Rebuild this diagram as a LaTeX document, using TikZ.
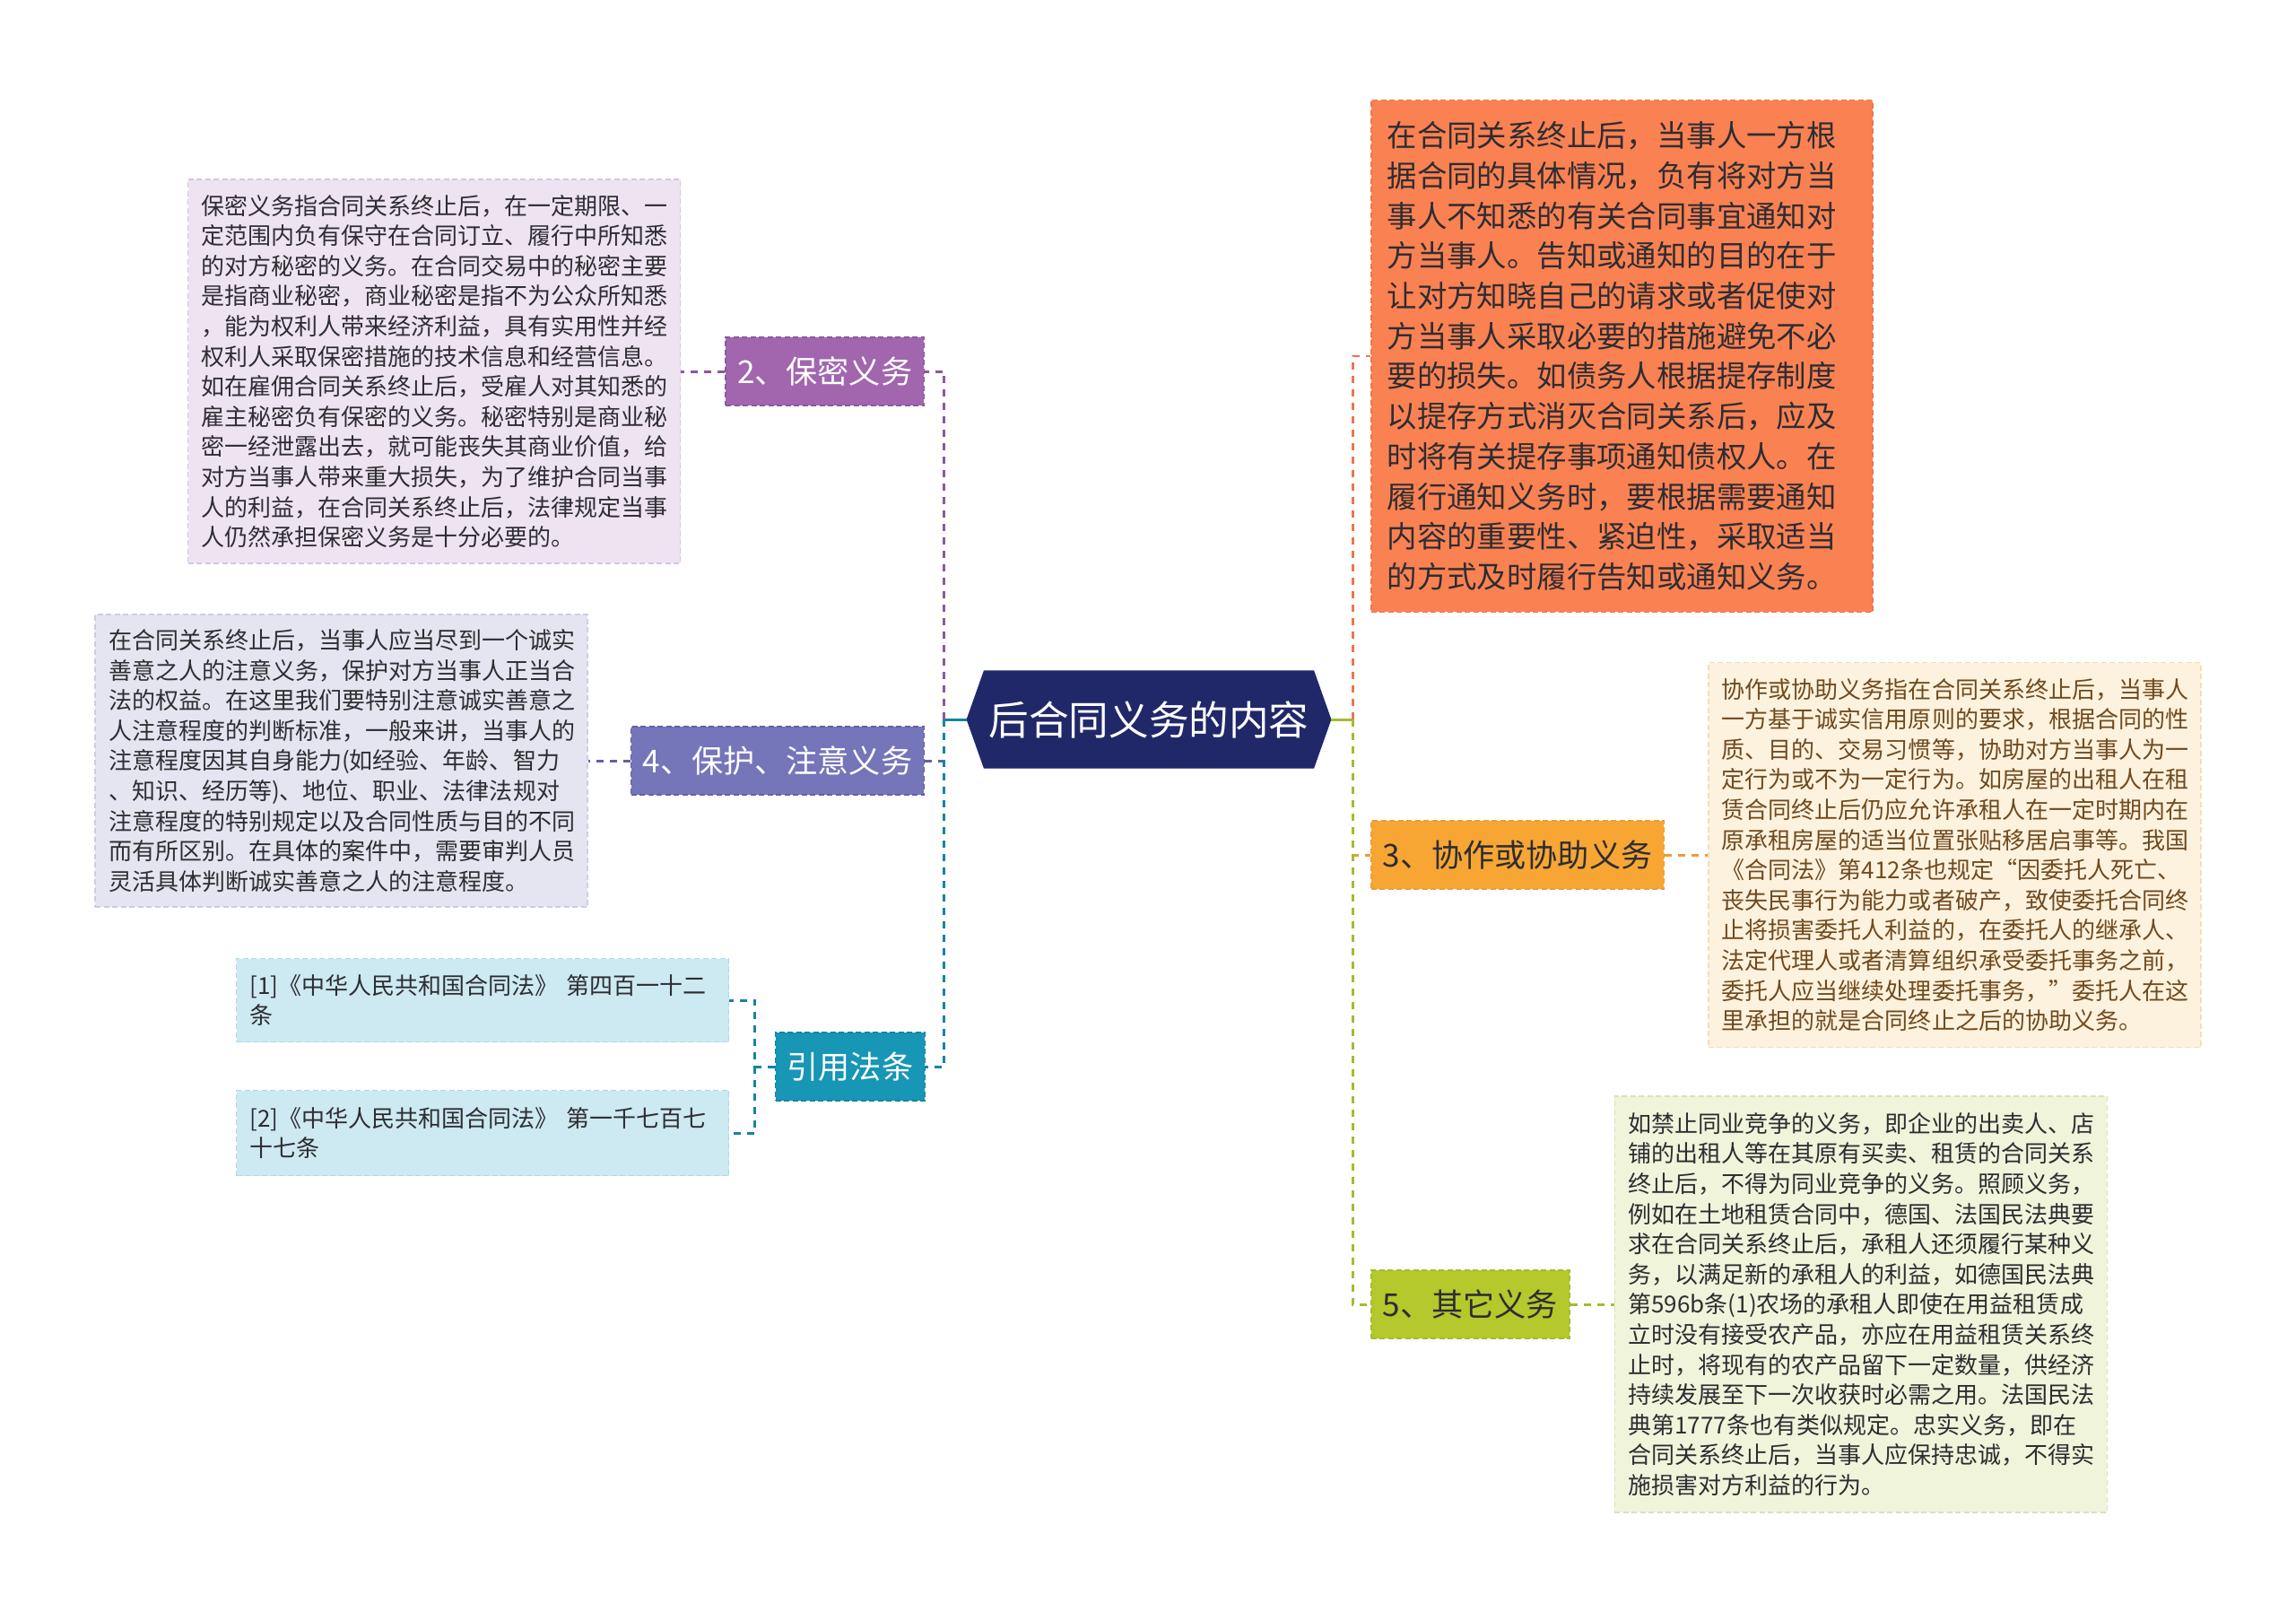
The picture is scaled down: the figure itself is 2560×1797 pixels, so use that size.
\documentclass[tikz,border=0pt]{standalone}
\usepackage{fontspec}
\setmainfont{Noto Sans CJK SC}
\usetikzlibrary{positioning,shapes.symbols}

\definecolor{rootbg}{RGB}{33,40,105}
\definecolor{inkgray}{RGB}{45,45,50}
\definecolor{mimibg}{RGB}{161,102,174}
\definecolor{mimiline}{RGB}{140,88,158}
\definecolor{mimileaf}{RGB}{238,228,241}
\definecolor{mimiedge}{RGB}{214,198,222}
\definecolor{zhuyibg}{RGB}{117,117,185}
\definecolor{zhuyiline}{RGB}{98,98,165}
\definecolor{zhuyileaf}{RGB}{229,229,241}
\definecolor{zhuyiedge}{RGB}{205,205,226}
\definecolor{citebg}{RGB}{23,150,181}
\definecolor{citeline}{RGB}{22,132,162}
\definecolor{citeleaf}{RGB}{205,233,242}
\definecolor{citeedge}{RGB}{180,215,228}
\definecolor{tongzhibg}{RGB}{250,129,82}
\definecolor{tongzhiline}{RGB}{236,118,78}
\definecolor{xiezuobg}{RGB}{247,166,52}
\definecolor{xiezuoline}{RGB}{238,156,55}
\definecolor{xiezuoleaf}{RGB}{253,242,222}
\definecolor{xiezuoedge}{RGB}{240,222,190}
\definecolor{xiezuoink}{RGB}{112,74,30}
\definecolor{qitabg}{RGB}{181,200,44}
\definecolor{qitaline}{RGB}{164,187,48}
\definecolor{qitaleaf}{RGB}{240,244,218}
\definecolor{qitaedge}{RGB}{216,226,186}

\begin{document}
\begin{tikzpicture}[x=0.1mm, y=-0.1mm,
	box/.style = {shape=rectangle, draw, line width=0.15mm, dash pattern=on 0.6mm off 0.35mm, inner xsep=1.5mm},
	branch/.style = {box, inner xsep=1.3mm, minimum height=7.6mm, font=\fontsize{10}{12}\selectfont},
	leaf/.style = {box, text width=51.9mm, align=left, font=\fontsize{7.4}{9.56}\selectfont, text=inkgray},
	link/.style = {line width=0.3mm, dash pattern=on 0.8mm off 0.7mm},
	stub/.style = {line width=0.3mm}]
	\useasboundingbox (0,0) rectangle (2560,1797);

	\node[signal, signal to=west and east, signal pointer angle=141, fill=rootbg, draw=rootbg,
		text=white, font=\fontsize{12.7}{15}\selectfont, minimum height=10.8mm, minimum width=40.4mm,
		inner xsep=0.5mm] (root) at (1281,802) {后合同义务的内容};
	\coordinate (lj) at ([xshift=-2.5mm]root.west);
	\coordinate (rj) at ([xshift=2.4mm]root.east);

	% left
	\node[branch, anchor=east, fill=mimibg, draw=mimiline, text=white] (mimi) at (1031,414) {2、保密义务};
	\node[leaf, fill=mimileaf, draw=mimiedge, minimum height=42.8mm, left=4.9mm of mimi] (mimitxt) {保密义务指合同关系终止后，在一定期限、一\\
定范围内负有保守在合同订立、履行中所知悉\\
的对方秘密的义务。在合同交易中的秘密主要\\
是指商业秘密，商业秘密是指不为公众所知悉\\
，能为权利人带来经济利益，具有实用性并经\\
权利人采取保密措施的技术信息和经营信息。\\
如在雇佣合同关系终止后，受雇人对其知悉的\\
雇主秘密负有保密的义务。秘密特别是商业秘\\
密一经泄露出去，就可能丧失其商业价值，给\\
对方当事人带来重大损失，为了维护合同当事\\
人的利益，在合同关系终止后，法律规定当事\\
人仍然承担保密义务是十分必要的。};

	\node[branch, anchor=east, fill=zhuyibg, draw=zhuyiline, text=white] (zhuyi) at (1031,848) {4、保护、注意义务};
	\node[leaf, fill=zhuyileaf, draw=zhuyiedge, minimum height=32.6mm, left=4.7mm of zhuyi] (zhuyitxt) {在合同关系终止后，当事人应当尽到一个诚实\\
善意之人的注意义务，保护对方当事人正当合\\
法的权益。在这里我们要特别注意诚实善意之\\
人注意程度的判断标准，一般来讲，当事人的\\
注意程度因其自身能力(如经验、年龄、智力\\
、知识、经历等)、地位、职业、法律法规对\\
注意程度的特别规定以及合同性质与目的不同\\
而有所区别。在具体的案件中，需要审判人员\\
灵活具体判断诚实善意之人的注意程度。};

	\node[branch, anchor=east, fill=citebg, draw=citeline, text=white] (cite) at (1032,1189) {引用法条};
	\node[leaf, fill=citeleaf, draw=citeedge, minimum height=9.3mm] (ref1) at (538,1115) {[1]《中华人民共和国合同法》 第四百一十二\\条};
	\node[leaf, fill=citeleaf, draw=citeedge, minimum height=9.5mm] (ref2) at (538,1263) {[2]《中华人民共和国合同法》 第一千七百七\\十七条};
	\coordinate (cj) at ([xshift=-2.2mm]cite.west);

	% right
	\node[leaf, fill=tongzhibg, draw=tongzhiline, anchor=west, text width=52.3mm, inner xsep=1.8mm,
		minimum height=57.1mm, font=\fontsize{9.5}{12.72}\selectfont, text=inkgray] (tongzhi) at (1528,397) {在合同关系终止后，当事人一方根\\
据合同的具体情况，负有将对方当\\
事人不知悉的有关合同事宜通知对\\
方当事人。告知或通知的目的在于\\
让对方知晓自己的请求或者促使对\\
方当事人采取必要的措施避免不必\\
要的损失。如债务人根据提存制度\\
以提存方式消灭合同关系后，应及\\
时将有关提存事项通知债权人。在\\
履行通知义务时，要根据需要通知\\
内容的重要性、紧迫性，采取适当\\
的方式及时履行告知或通知义务。};

	\node[branch, anchor=west, fill=xiezuobg, draw=xiezuoline, text=inkgray] (xiezuo) at (1528,953) {3、协作或协助义务};
	\node[leaf, fill=xiezuoleaf, draw=xiezuoedge, text=xiezuoink, minimum height=42.9mm, right=4.8mm of xiezuo] (xiezuotxt) {协作或协助义务指在合同关系终止后，当事人\\
一方基于诚实信用原则的要求，根据合同的性\\
质、目的、交易习惯等，协助对方当事人为一\\
定行为或不为一定行为。如房屋的出租人在租\\
赁合同终止后仍应允许承租人在一定时期内在\\
原承租房屋的适当位置张贴移居启事等。我国\\
《合同法》第412条也规定“因委托人死亡、\\
丧失民事行为能力或者破产，致使委托合同终\\
止将损害委托人利益的，在委托人的继承人、\\
法定代理人或者清算组织承受委托事务之前，\\
委托人应当继续处理委托事务，”委托人在这\\
里承担的就是合同终止之后的协助义务。};

	\node[branch, anchor=west, fill=qitabg, draw=qitaline, text=inkgray] (qita) at (1528,1454) {5、其它义务};
	\node[leaf, fill=qitaleaf, draw=qitaedge, minimum height=46.4mm, right=4.9mm of qita] (qitatxt) {如禁止同业竞争的义务，即企业的出卖人、店\\
铺的出租人等在其原有买卖、租赁的合同关系\\
终止后，不得为同业竞争的义务。照顾义务，\\
例如在土地租赁合同中，德国、法国民法典要\\
求在合同关系终止后，承租人还须履行某种义\\
务，以满足新的承租人的利益，如德国民法典\\
第596b条(1)农场的承租人即使在用益租赁成\\
立时没有接受农产品，亦应在用益租赁关系终\\
止时，将现有的农产品留下一定数量，供经济\\
持续发展至下一次收获时必需之用。法国民法\\
典第1777条也有类似规定。忠实义务，即在\\
合同关系终止后，当事人应保持忠诚，不得实\\
施损害对方利益的行为。};

	% connectors
	\draw[stub, citeline] (root.west) -- (lj);
	\draw[link, mimiline] (lj) |- (mimi.east);
	\draw[link, zhuyiline] (lj) |- (zhuyi.east);
	\draw[link, citeline] (lj) |- (cite.east);
	\draw[link, mimiline] (mimi.west) -- (mimitxt.east);
	\draw[link, zhuyiline] (zhuyi.west) -- (zhuyitxt.east);
	\draw[link, citeline] (cite.west) -- (cj) |- (ref1.east);
	\draw[link, citeline] (cj) |- (ref2.east);

	\draw[stub, qitaline] (root.east) -- (rj);
	\draw[link, tongzhiline] (rj) |- (tongzhi.west);
	\draw[link, xiezuoline] (rj) |- (xiezuo.west);
	\draw[link, qitaline] (rj) |- (qita.west);
	\draw[link, xiezuoline] (xiezuo.east) -- (xiezuotxt.west);
	\draw[link, qitaline] (qita.east) -- (qitatxt.west);
\end{tikzpicture}
\end{document}
